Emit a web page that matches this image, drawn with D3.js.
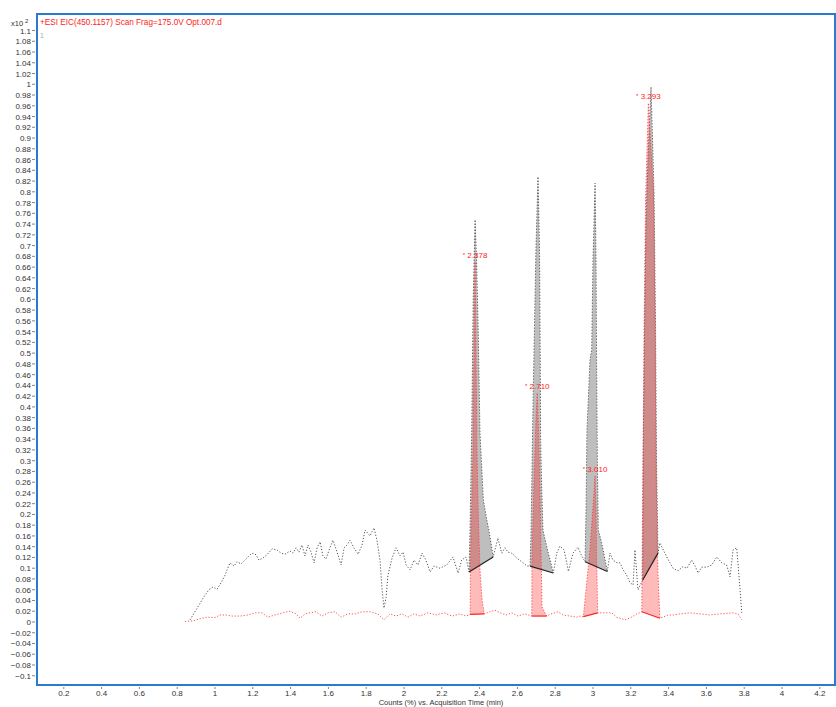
<!DOCTYPE html>
<html>
<head>
<meta charset="utf-8">
<script src="https://cdn.jsdelivr.net/npm/d3@7/dist/d3.min.js"></script>
<style>
  body { margin: 0; background: #fff; }
  svg { display: block; font-family: "Liberation Sans", Arial, sans-serif; }
</style>
</head>
<body>
<svg id="chart" width="836" height="707"></svg>
<script>
'use strict';

// acquisition time (min) / counts (x10^2 %) for the dotted black trace
var blackTime = [0.868, 0.894, 0.921, 0.947, 0.968, 0.989, 1.011, 1.032, 1.053, 1.079,
  1.101, 1.116, 1.138, 1.153, 1.185, 1.201, 1.217, 1.233, 1.254, 1.275,
  1.302, 1.328, 1.349, 1.370, 1.397, 1.413, 1.429, 1.444, 1.460, 1.476,
  1.492, 1.508, 1.524, 1.540, 1.556, 1.571, 1.587, 1.608, 1.624, 1.646,
  1.667, 1.683, 1.698, 1.714, 1.735, 1.757, 1.778, 1.794, 1.820, 1.841,
  1.857, 1.873, 1.884, 1.894, 1.905, 1.915, 1.937, 1.958, 1.979, 1.995,
  2.011, 2.032, 2.053, 2.074, 2.095, 2.116, 2.138, 2.159, 2.190, 2.226,
  2.259, 2.286, 2.305, 2.328,
  2.344, 2.349, 2.358, 2.366, 2.376, 2.384, 2.393, 2.402, 2.420, 2.438, 2.451, 2.472,
  2.497, 2.517, 2.534, 2.550, 2.570, 2.596, 2.630, 2.651,
  2.667, 2.672, 2.683, 2.698, 2.709, 2.717, 2.720, 2.723, 2.728, 2.735, 2.762, 2.790,
  2.808, 2.825, 2.847, 2.870, 2.894, 2.921, 2.937,
  2.958, 2.963, 2.968, 2.984, 2.993, 3.000, 3.011, 3.016, 3.019, 3.023, 3.028, 3.046, 3.076,
  3.090, 3.106, 3.127, 3.143, 3.159, 3.178, 3.196, 3.212, 3.222, 3.238,
  3.263, 3.265, 3.273, 3.280, 3.291, 3.307, 3.323, 3.331, 3.336, 3.344,
  3.354, 3.390, 3.423, 3.450, 3.476, 3.497, 3.522, 3.540, 3.556, 3.575,
  3.602, 3.628, 3.655, 3.681, 3.707, 3.725, 3.741, 3.760, 3.767, 3.778, 3.787];

var blackCounts = [0.004, 0.019, 0.035, 0.050, 0.060, 0.065, 0.061, 0.073, 0.087, 0.110,
  0.104, 0.112, 0.108, 0.113, 0.125, 0.128, 0.125, 0.115, 0.119, 0.125,
  0.136, 0.134, 0.128, 0.126, 0.132, 0.128, 0.138, 0.130, 0.143, 0.123,
  0.143, 0.130, 0.110, 0.138, 0.149, 0.123, 0.117, 0.138, 0.152, 0.130,
  0.106, 0.138, 0.143, 0.152, 0.138, 0.126, 0.143, 0.171, 0.160, 0.175,
  0.152, 0.115, 0.060, 0.026, 0.045, 0.087, 0.119, 0.138, 0.123, 0.130,
  0.106, 0.097, 0.115, 0.106, 0.128, 0.115, 0.093, 0.104, 0.100, 0.106,
  0.121, 0.091, 0.115, 0.121,
  0.093, 0.166, 0.352, 0.599, 0.748, 0.673, 0.537, 0.352, 0.227, 0.190, 0.167, 0.121,
  0.156, 0.128, 0.138, 0.130, 0.128, 0.119, 0.110, 0.104,
  0.104, 0.166, 0.413, 0.692, 0.828, 0.692, 0.537, 0.338, 0.259, 0.171, 0.130, 0.091,
  0.128, 0.141, 0.134, 0.094, 0.128, 0.139, 0.125,
  0.112, 0.208, 0.357, 0.487, 0.506, 0.673, 0.816, 0.673, 0.487, 0.301, 0.171, 0.147, 0.094,
  0.128, 0.115, 0.110, 0.110, 0.097, 0.087, 0.073, 0.069, 0.134, 0.060,
  0.078, 0.301, 0.549, 0.735, 0.859, 0.995, 0.798, 0.549, 0.301, 0.128,
  0.147, 0.121, 0.100, 0.095, 0.103, 0.100, 0.115, 0.104, 0.091, 0.102,
  0.102, 0.106, 0.121, 0.110, 0.106, 0.084, 0.134, 0.138, 0.110, 0.060, 0.017];

// dotted red trace
var redTime = [0.841, 0.884, 0.921, 0.958, 1.000, 1.026, 1.058, 1.090, 1.132, 1.175,
  1.212, 1.249, 1.280, 1.317, 1.360, 1.397, 1.429, 1.450, 1.476, 1.503,
  1.534, 1.566, 1.598, 1.635, 1.667, 1.704, 1.741, 1.778, 1.820, 1.862,
  1.894, 1.926, 1.958, 1.989, 2.021, 2.053, 2.085, 2.127, 2.169, 2.212,
  2.254, 2.296, 2.328,
  2.350, 2.352, 2.365, 2.370, 2.376, 2.381, 2.386, 2.394, 2.402, 2.413, 2.425,
  2.455, 2.481, 2.508, 2.540, 2.571, 2.603, 2.640,
  2.676, 2.677, 2.688, 2.698, 2.705, 2.712, 2.720, 2.728, 2.730, 2.755,
  2.778, 2.799, 2.815, 2.841, 2.878, 2.914, 2.931,
  2.949, 2.968, 2.984, 3.000, 3.011, 3.016, 3.019, 3.025,
  3.063, 3.099, 3.125, 3.169, 3.204, 3.233,
  3.258, 3.260, 3.265, 3.270, 3.278, 3.293, 3.320, 3.328, 3.333, 3.339, 3.344, 3.354,
  3.370, 3.397, 3.423, 3.460, 3.513, 3.566, 3.619, 3.672, 3.741, 3.767, 3.787];

var redCounts = [0.001, 0.002, 0.006, 0.009, 0.008, 0.013, 0.013, 0.011, 0.011, 0.013,
  0.017, 0.017, 0.009, 0.013, 0.017, 0.020, 0.015, 0.007, 0.015, 0.017,
  0.019, 0.011, 0.017, 0.019, 0.009, 0.015, 0.015, 0.019, 0.019, 0.015,
  0.004, 0.015, 0.011, 0.015, 0.009, 0.015, 0.011, 0.017, 0.013, 0.017,
  0.011, 0.015, 0.011,
  0.014, 0.115, 0.320, 0.506, 0.670, 0.506, 0.320, 0.190, 0.097, 0.041, 0.015,
  0.019, 0.022, 0.017, 0.013, 0.017, 0.011, 0.015,
  0.011, 0.115, 0.264, 0.376, 0.426, 0.357, 0.227, 0.078, 0.028, 0.011,
  0.015, 0.017, 0.019, 0.013, 0.011, 0.009, 0.011,
  0.010, 0.078, 0.134, 0.214, 0.272, 0.208, 0.121, 0.017,
  0.017, 0.017, 0.009, 0.004, 0.009, 0.015,
  0.019, 0.115, 0.320, 0.543, 0.785, 0.965, 0.800, 0.550, 0.300, 0.150, 0.090, 0.007,
  0.009, 0.013, 0.013, 0.015, 0.017, 0.015, 0.013, 0.015, 0.017, 0.015, 0.004];

// integration windows [start, end] (min)
var blackPeaks = [[2.344, 2.472], [2.667, 2.790], [2.958, 3.076], [3.263, 3.344]];
var redPeaks = [[2.350, 2.425], [2.676, 2.755], [2.949, 3.025], [3.258, 3.354]];
var peakLabels = ['2.378', '2.710', '3.010', '3.293'];

var yTicks = d3.range(-10, 111, 2).map(function(d){ return d / 100; });
var xTicks = [0.2, 0.4, 0.6, 0.8, 1, 1.2, 1.4, 1.6, 1.8, 2, 2.2, 2.4, 2.6, 2.8, 3, 3.2, 3.4, 3.6, 3.8, 4, 4.2];

var titleText = '+ESI EIC(450.1157) Scan Frag=175.0V Opt.007.d';
var xTitle = 'Counts (%) vs. Acquisition Time (min)';

var frame = {left: 37, top: 14, right: 835, bottom: 685};

var svg = d3.select('#chart');

var x = d3.scaleLinear().domain([0.0582, 4.2804]).range([frame.left, frame.right]);
var y = d3.scaleLinear().domain([-0.1172, 1.1307]).range([frame.bottom, frame.top]);

function zip(ts, vs){
  return ts.map(function(t, i){ return [t, vs[i]]; });
}

var blackData = zip(blackTime, blackCounts);
var redData = zip(redTime, redCounts);

var line = d3.line()
  .x(function(d){ return x(d[0]); })
  .y(function(d){ return y(d[1]); });

function peakPoints(data, win){
  return data.filter(function(d){ return d[0] >= win[0] - 1e-6 && d[0] <= win[1] + 1e-6; });
}

// filled peak areas: curve then straight baseline back to start
function drawPeaks(data, wins, fill){
  wins.forEach(function(win){
    var pts = peakPoints(data, win);
    svg.append('path')
      .attr('d', line(pts) + 'Z')
      .attr('fill', fill)
      .attr('stroke', 'none');
  });
}

drawPeaks(blackData, blackPeaks, '#bebebe');
drawPeaks(redData, redPeaks, 'rgba(255,0,0,0.27)');

// traces
svg.append('path')
  .attr('d', line(blackData))
  .attr('fill', 'none')
  .attr('stroke', '#555')
  .attr('stroke-width', 1)
  .attr('stroke-dasharray', '1.2,1.8');

svg.append('path')
  .attr('d', line(redData))
  .attr('fill', 'none')
  .attr('stroke', '#f33')
  .attr('stroke-opacity', 0.85)
  .attr('stroke-width', 1)
  .attr('stroke-dasharray', '1.2,1.8');

// baselines
function drawBaselines(data, wins, color){
  wins.forEach(function(win){
    var pts = peakPoints(data, win);
    var a = pts[0], b = pts[pts.length - 1];
    svg.append('line')
      .attr('x1', x(a[0])).attr('y1', y(a[1]))
      .attr('x2', x(b[0])).attr('y2', y(b[1]))
      .attr('stroke', color)
      .attr('stroke-width', 1.2);
  });
}

drawBaselines(blackData, blackPeaks, '#222');
drawBaselines(redData, redPeaks, '#f22');

// peak labels above red apex
redPeaks.forEach(function(win, i){
  var pts = peakPoints(redData, win);
  var top = d3.max(pts, function(d){ return d[1]; });
  var t = d3.mean(pts.filter(function(d){ return d[1] === top; }), function(d){ return d[0]; });
  var lbl = svg.append('text')
    .attr('x', x(t))
    .attr('y', y(top) - 4)
    .attr('text-anchor', 'middle')
    .attr('fill', '#f22')
    .attr('font-size', 8);
  lbl.append('tspan').attr('font-size', 6).attr('dy', -1).text('*');
  lbl.append('tspan').attr('dy', 1).text(' ' + peakLabels[i]);
});

// y axis labels and ticks
var yAxis = svg.append('g').attr('class', 'yAxis');
yAxis.selectAll('text')
  .data(yTicks)
  .enter().append('text')
  .attr('x', 31)
  .attr('y', function(d){ return y(d) + 3; })
  .attr('text-anchor', 'end')
  .attr('font-size', 8)
  .attr('fill', '#333')
  .text(function(d){ return d3.format('~g')(+d.toFixed(2)); });
yAxis.selectAll('line')
  .data(yTicks)
  .enter().append('line')
  .attr('x1', 32).attr('x2', 35)
  .attr('y1', function(d){ return y(d); })
  .attr('y2', function(d){ return y(d); })
  .attr('stroke', '#666')
  .attr('stroke-width', 0.8);

// x axis labels and ticks
var xAxis = svg.append('g').attr('class', 'xAxis');
xAxis.selectAll('text')
  .data(xTicks)
  .enter().append('text')
  .attr('x', function(d){ return x(d); })
  .attr('y', 696)
  .attr('text-anchor', 'middle')
  .attr('font-size', 8)
  .attr('fill', '#333')
  .text(function(d){ return d3.format('~g')(d); });
xAxis.selectAll('line')
  .data(xTicks)
  .enter().append('line')
  .attr('x1', function(d){ return x(d); })
  .attr('x2', function(d){ return x(d); })
  .attr('y1', 687).attr('y2', 689)
  .attr('stroke', '#666')
  .attr('stroke-width', 0.8);

svg.append('text')
  .attr('x', 441)
  .attr('y', 705)
  .attr('text-anchor', 'middle')
  .attr('font-size', 7.5)
  .attr('fill', '#333')
  .text(xTitle);

// frame
svg.append('rect')
  .attr('x', frame.left)
  .attr('y', frame.top)
  .attr('width', frame.right - frame.left)
  .attr('height', frame.bottom - frame.top)
  .attr('fill', 'none')
  .attr('stroke', '#2a7ad2')
  .attr('stroke-width', 2);

// header texts
svg.append('text')
  .attr('x', 40)
  .attr('y', 25)
  .attr('font-size', 8.2)
  .attr('fill', '#f22')
  .text(titleText);

svg.append('text')
  .attr('x', 40)
  .attr('y', 38)
  .attr('font-size', 7)
  .attr('fill', '#aaa')
  .text('1');

var mult = svg.append('text')
  .attr('x', 11)
  .attr('y', 26)
  .attr('font-size', 7.5)
  .attr('fill', '#333');
mult.append('tspan').text('x10');
mult.append('tspan').attr('dx', 2).attr('dy', -3).attr('font-size', 6).text('2');
</script>
</body>
</html>
